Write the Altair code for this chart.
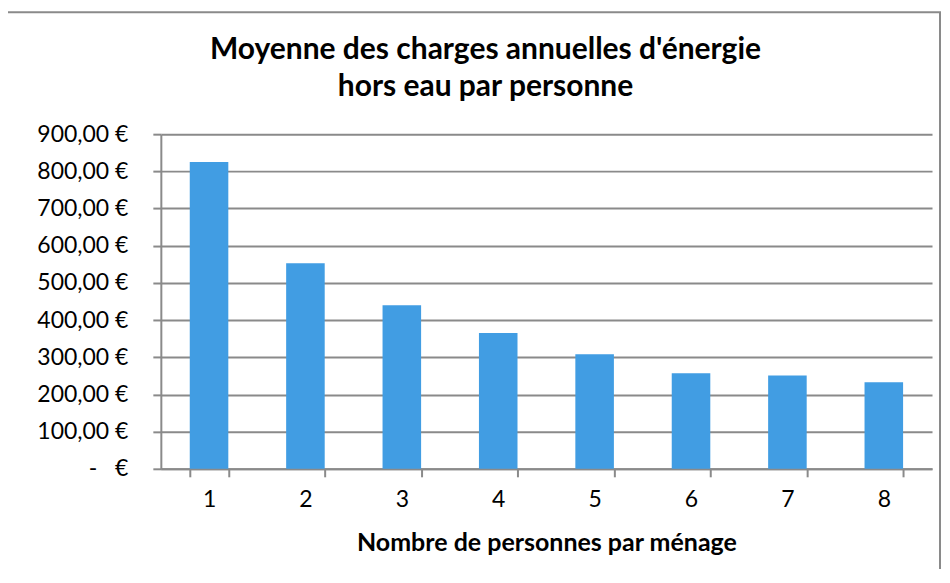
import altair as alt
import pandas as pd

personnes = ["1", "2", "3", "4", "5", "6", "7", "8"]
valeurs = [825, 553, 440, 365, 308, 257, 251, 233]
y_ticks = [0, 100, 200, 300, 400, 500, 600, 700, 800, 900]

titre_ligne1 = "Moyenne des charges annuelles d'énergie"
titre_ligne2 = "hors eau par personne"
titre_x = "Nombre de personnes par ménage"

df = pd.DataFrame({"personnes": personnes, "valeur": valeurs})

GRAY = "#8a8a8a"
FONT = "Lato"

bars = alt.Chart(df).mark_bar(color="#419DE3").encode(
    x=alt.X(
        "personnes:N",
        sort=personnes,
        scale=alt.Scale(paddingInner=0.6, paddingOuter=0.3),
        axis=alt.Axis(
            title=titre_x,
            labelAngle=0,
            tickBand="extent",
            ticks=True,
            tickSize=8,
            tickWidth=2,
            tickColor=GRAY,
            domainColor=GRAY,
            domainWidth=2,
            grid=False,
            labelFont=FONT,
            labelFontSize=23,
            labelColor="black",
            labelPadding=12,
            titleFont=FONT,
            titleFontSize=25,
            titleFontWeight="bold",
            titleColor="black",
            titlePadding=19,
        ),
    ),
    y=alt.Y(
        "valeur:Q",
        scale=alt.Scale(domain=[0, 900]),
        axis=alt.Axis(
            title=None,
            values=y_ticks,
            labelExpr="datum.value == 0 ? '-\u00a0\u00a0\u00a0\u20ac' : replace(format(datum.value, '.2f'), '.', ',') + '\u00a0\u20ac'",
            tickSize=8,
            tickWidth=2,
            tickColor=GRAY,
            domainColor=GRAY,
            domainWidth=2,
            gridColor=GRAY,
            gridWidth=2,
            labelFont=FONT,
            labelFontSize=23,
            labelColor="black",
            labelPadding=25,
        ),
    ),
)

one = pd.DataFrame({"a": [0]})

frame = alt.Chart(one).mark_rect(
    fill=None, stroke=GRAY, strokeWidth=2
).encode(
    x=alt.value(-156), x2=alt.value(780), y=alt.value(-122), y2=alt.value(520)
)

t1 = alt.Chart(one).mark_text(
    font=FONT, fontSize=30, fontWeight="bold", color="black",
    align="center", baseline="middle"
).encode(x=alt.value(325), y=alt.value(-84), text=alt.value(titre_ligne1))

t2 = alt.Chart(one).mark_text(
    font=FONT, fontSize=30, fontWeight="bold", color="black",
    align="center", baseline="middle"
).encode(x=alt.value(325), y=alt.value(-47), text=alt.value(titre_ligne2))

chart = alt.layer(frame, bars, t1, t2).properties(
    width=772,
    height=335,
    padding={"left": 153, "top": 126, "right": 10, "bottom": 100},
    autosize=alt.AutoSizeParams(type="none"),
).configure_view(stroke=None)

chart.save("out.html", embed_options={"renderer": "svg", "actions": False})
